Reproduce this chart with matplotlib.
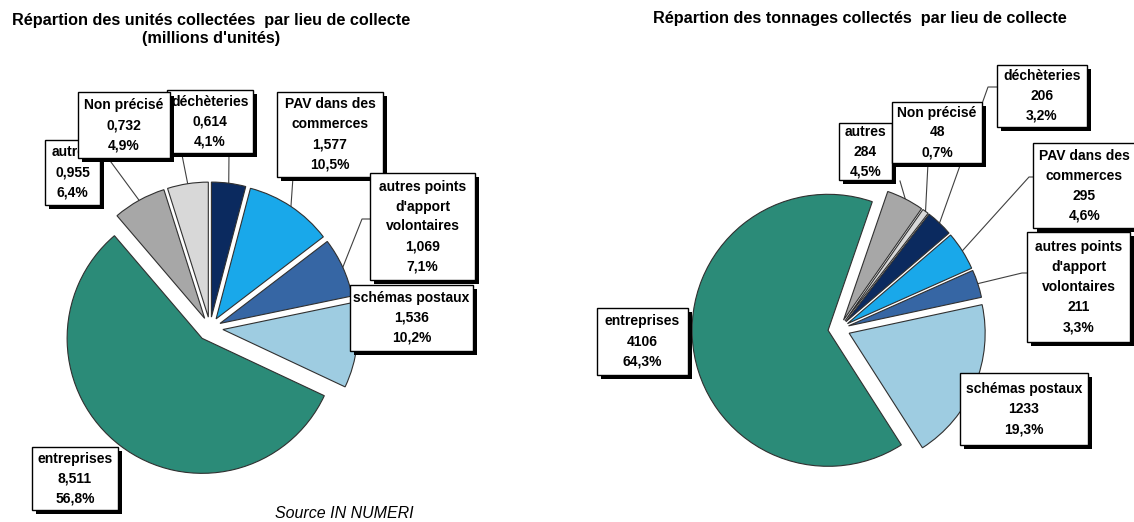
import numpy as np
import matplotlib.pyplot as plt
from matplotlib.patches import Rectangle

# Données, dans l'ordre des secteurs (sens horaire)
lieux = ["déchèteries", "PAV dans des\ncommerces", "autres points\nd'apport\nvolontaires",
         "schémas postaux", "entreprises", "autres", "Non précisé"]
unites = [0.614, 1.577, 1.069, 1.536, 8.511, 0.955, 0.732]  # millions d'unités
unites_pct = ["4,1%", "10,5%", "7,1%", "10,2%", "56,8%", "6,4%", "4,9%"]
tonnages = [206, 295, 211, 1233, 4106, 284, 48]
tonnages_pct = ["3,2%", "4,6%", "3,3%", "19,3%", "64,3%", "4,5%", "0,7%"]

couleurs = ["#0b2a5f", "#19a8ea", "#3666a4", "#9ecce1", "#2b8b78", "#a7a7a7", "#d8d8d8"]

titre_g = "Répartion des unités collectées  par lieu de collecte\n(millions d'unités)"
titre_d = "Répartion des tonnages collectés  par lieu de collecte"
source = "Source IN NUMERI"

# Mise en page en pixels (x0, y0, x1, y1), ordre identique à lieux
boites_g = [(167, 90, 253, 153), (277, 92, 383, 177), (370, 173, 475, 280),
            (350, 285, 473, 351), (32, 447, 118, 510), (45, 140, 100, 205),
            (78, 92, 170, 158)]
z_g = [2, 2, 2, 2, 2, 1, 3]
traits_g = [[(229, 153)], [(293, 177)], [(370, 219), (362, 219)],
            None, None, [(108, 158)], [(182, 155)]]

boites_d = [(997, 65, 1087, 127), (1033, 143, 1136, 228), (1027, 232, 1130, 342),
            (960, 373, 1088, 445), (597, 308, 688, 375), (839, 123, 892, 180),
            (892, 102, 982, 163)]
z_d = [2, 2, 2, 2, 2, 1, 3]
traits_d = [[(997, 87), (988, 87)], [(1033, 177), (1029, 177)],
            [(1027, 273), (1022, 273)], None, None, [(900, 181)], [(928, 163)]]

POLICE = ["Liberation Sans", "DejaVu Sans"]


def camembert(ax, valeurs, centre, rayon, debut, eclat):
    # axe y inversé : counterclock=True donne le sens horaire à l'écran
    wedges, _ = ax.pie(valeurs, colors=couleurs, explode=eclat, startangle=debut,
                       counterclock=True, center=centre, radius=rayon,
                       wedgeprops=dict(edgecolor="#303030", linewidth=0.8))
    return wedges


def etiquette(ax, boite, lignes, z):
    x0, y0, x1, y1 = boite
    ax.add_patch(Rectangle((x0 + 4, y0 + 4), x1 - x0, y1 - y0, facecolor="black",
                           edgecolor="none", zorder=z))
    ax.add_patch(Rectangle((x0, y0), x1 - x0, y1 - y0, facecolor="white",
                           edgecolor="black", linewidth=1.0, zorder=z + 0.1))
    cx, cy = (x0 + x1) / 2, (y0 + y1) / 2
    n = len(lignes)
    for i, txt in enumerate(lignes):
        ax.text(cx, cy + (i - (n - 1) / 2) * 20, txt, ha="center", va="center",
                fontsize=10, fontweight="bold", family=POLICE, zorder=z + 0.2)


def trait(ax, depart, wedge):
    t = np.deg2rad((wedge.theta1 + wedge.theta2) / 2)
    fin = (wedge.center[0] + wedge.r * np.cos(t), wedge.center[1] + wedge.r * np.sin(t))
    pts = list(depart) + [fin]
    ax.plot([p[0] for p in pts], [p[1] for p in pts], color="#404040", linewidth=0.8,
            zorder=0.5)


fig = plt.figure(figsize=(11.34, 5.22), dpi=100)
ax = fig.add_axes([0, 0, 1, 1])

w_g = camembert(ax, unites, (210, 328), 135, -90, [11, 11, 11, 13, 13, 11, 11])
w_d = camembert(ax, tonnages, (839, 329), 136, -52.3, [10, 10, 10, 11, 11, 10, 10])

for i, nom in enumerate(lieux):
    etiquette(ax, boites_g[i], nom.split("\n") + [f"{unites[i]:.3f}".replace(".", ","), unites_pct[i]], z_g[i])
    etiquette(ax, boites_d[i], nom.split("\n") + [f"{tonnages[i]:d}", tonnages_pct[i]], z_d[i])
    if traits_g[i]:
        trait(ax, traits_g[i], w_g[i])
    if traits_d[i]:
        trait(ax, traits_d[i], w_d[i])

ax.text(211, 30, titre_g, ha="center", va="center", fontsize=11.7, fontweight="bold",
        family=POLICE, linespacing=1.25)
ax.text(860, 19, titre_d, ha="center", va="center", fontsize=11.7, fontweight="bold",
        family=POLICE)
ax.text(344, 514, source, ha="center", va="center", fontsize=11.5, style="italic",
        family=POLICE)

ax.set_xlim(0, 1134)
ax.set_ylim(522, 0)
ax.axis("off")

fig.savefig("out.png", dpi=100)
